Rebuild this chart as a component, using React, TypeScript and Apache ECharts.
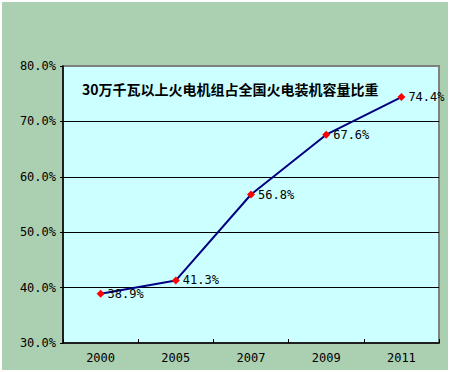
import React, { useEffect, useRef } from "react";
import * as echarts from "echarts";

const categories = ["2000", "2005", "2007", "2009", "2011"];
const shareValues = [38.9, 41.3, 56.8, 67.6, 74.4];
const titleText = "30万千瓦以上火电机组占全国火电装机容量比重";
const yMin = 30;
const yMax = 80;
const yStep = 10;

const MONO = "'DejaVu Sans Mono', 'Liberation Mono', monospace";

export default function App() {
  const ref = useRef<HTMLDivElement>(null);
  useEffect(() => {
    if (!ref.current) return;
    const chart = echarts.init(ref.current, null, { renderer: "svg" });
    chart.setOption({
      animation: false,
      backgroundColor: "#ffffff",
      graphic: [
        {
          type: "rect",
          z: -10,
          silent: true,
          shape: { x: 2, y: 2, width: 446, height: 368 },
          style: { fill: "#ABCFB1" },
        },
        {
          type: "text",
          z: 10,
          left: 82,
          top: 82,
          style: {
            text: titleText,
            font: "bold 14px 'Noto Sans CJK SC', sans-serif",
            fill: "#000000",
          },
        },
      ],
      grid: {
        left: 63,
        right: 11,
        top: 66,
        bottom: 29,
        show: true,
        backgroundColor: "#CCFFFF",
        borderColor: "#808080",
        borderWidth: 2,
        containLabel: false,
      },
      xAxis: {
        type: "category",
        data: categories,
        boundaryGap: true,
        axisLine: { show: true, lineStyle: { color: "#000000", width: 1.5 } },
        axisTick: {
          show: true,
          inside: true,
          length: 4,
          lineStyle: { color: "#000000" },
        },
        axisLabel: {
          color: "#000000",
          fontFamily: MONO,
          fontSize: 12,
          margin: 9,
        },
        splitLine: { show: false },
      },
      yAxis: {
        type: "value",
        min: yMin,
        max: yMax,
        interval: yStep,
        axisLine: { show: true, lineStyle: { color: "#000000", width: 1.5 } },
        axisTick: { show: true, length: 3, lineStyle: { color: "#000000" } },
        axisLabel: {
          color: "#000000",
          fontFamily: MONO,
          fontSize: 12,
          margin: 7,
          formatter: (v: number) => v.toFixed(1) + "%",
        },
        splitLine: {
          show: true,
          lineStyle: {
            color: ["transparent", "#000000", "#000000", "#000000", "#000000", "#808080"],
            width: 1,
          },
        },
      },
      series: [
        {
          type: "line",
          data: shareValues,
          symbol: "diamond",
          symbolSize: 8,
          lineStyle: { color: "#000080", width: 2 },
          itemStyle: { color: "#FF0000" },
          label: {
            show: true,
            position: "right",
            distance: 3,
            color: "#000000",
            fontFamily: MONO,
            fontSize: 12,
            formatter: (p: any) => p.value.toFixed(1) + "%",
          },
          z: 5,
        },
      ],
    });
    return () => chart.dispose();
  }, []);
  return (
    <div
      ref={ref}
      style={{ position: "fixed", left: 0, top: 0, width: 450, height: 372 }}
    />
  );
}
